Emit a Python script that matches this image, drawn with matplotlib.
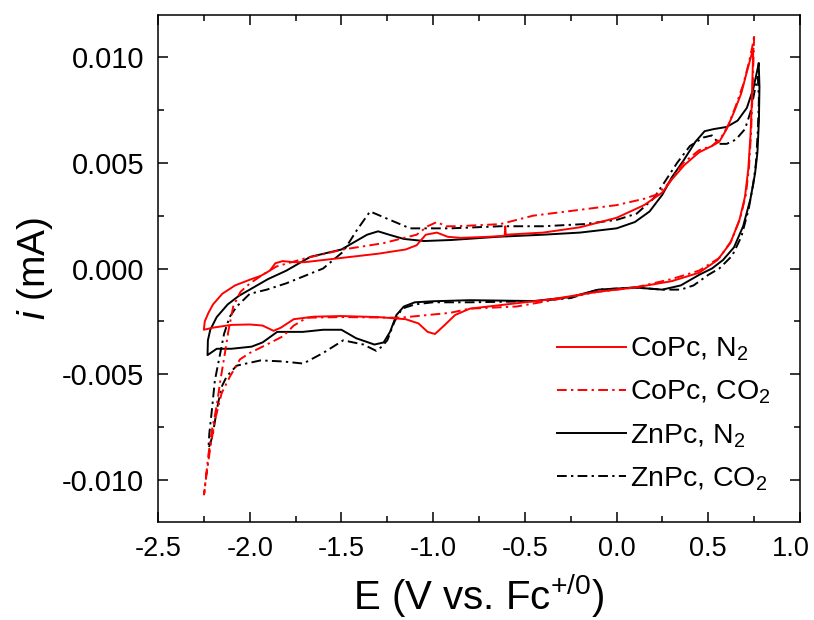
import matplotlib
matplotlib.use("Agg")
import matplotlib.pyplot as plt
import matplotlib.transforms as mtransforms
from matplotlib.ticker import MultipleLocator, FormatStrFormatter

plt.rcParams['font.family'] = ['Liberation Sans', 'DejaVu Sans']
plt.rcParams['mathtext.fontset'] = 'custom'
plt.rcParams['mathtext.rm'] = 'Liberation Sans'
plt.rcParams['mathtext.it'] = 'Liberation Sans:italic'
plt.rcParams['axes.unicode_minus'] = False

# CoPc, N2 (red solid): right vertex -> cathodic branch -> left vertex -> anodic branch
copc_n2_E = [0.745, 0.742, 0.737, 0.730, 0.718, 0.700, 0.670, 0.620, 0.550, 0.450, 0.300, 0.100,
             -0.100, -0.350, -0.600, -0.800, -0.880, -0.940, -0.990, -1.030, -1.080, -1.150,
             -1.300, -1.500, -1.650, -1.760, -1.830, -1.870, -1.930, -2.000, -2.100, -2.200,
             -2.250,
             -2.245, -2.225, -2.200, -2.150, -2.080, -1.990, -1.940, -1.890, -1.860, -1.820,
             -1.760, -1.700, -1.500, -1.300, -1.150, -1.090, -1.040, -0.980, -0.920, -0.850,
             -0.700, -0.610, -0.607, -0.604, -0.400, -0.200, 0.000, 0.150, 0.250, 0.300, 0.370,
             0.450, 0.520, 0.560, 0.600, 0.640, 0.680, 0.710, 0.735, 0.745]
copc_n2_i = [0.0104, 0.0094, 0.0078, 0.0063, 0.0047, 0.0034, 0.0023, 0.0012, 0.0004, -0.0002,
             -0.0006, -0.0009, -0.0011, -0.00145, -0.0017, -0.0019, -0.0022, -0.0027, -0.0031,
             -0.0030, -0.0026, -0.0024, -0.0023, -0.00225, -0.00228, -0.0024, -0.0028, -0.00295,
             -0.0027, -0.00265, -0.00267, -0.0028,
             -0.0029,
             -0.0025, -0.0021, -0.0017, -0.0012, -0.0008, -0.0005, -0.00035, -0.0001, 0.00025,
             0.00035, 0.0003, 0.0003, 0.0005, 0.0007, 0.0009, 0.0011, 0.0016, 0.0017, 0.0015,
             0.00145, 0.0015, 0.00155, 0.0020, 0.0016, 0.0017, 0.00195, 0.0024, 0.0030, 0.0036,
             0.0042, 0.0049, 0.0055, 0.0058, 0.0060, 0.0066, 0.0074, 0.0083, 0.0093, 0.0101,
             0.0104]

# CoPc, CO2 (red dash-dot)
copc_co2_E = [0.750, 0.745, 0.740, 0.733, 0.722, 0.705, 0.675, 0.625, 0.560, 0.450, 0.300, 0.100,
              -0.100, -0.350, -0.545, -0.800, -0.908, -1.181, -1.500, -1.689, -1.760, -1.817,
              -1.907, -2.000, -2.053, -2.107, -2.153, -2.190, -2.215, -2.235,
              -2.249,
              -2.240, -2.225, -2.207, -2.180, -2.160, -2.135, -2.117, -2.090, -2.050, -1.998,
              -1.930, -1.853, -1.689, -1.490, -1.271, -1.090, -1.030, -0.980, -0.930, -0.871,
              -0.635, -0.455, -0.180, 0.000, 0.150, 0.219, 0.280, 0.364, 0.450, 0.520, 0.570,
              0.610, 0.650, 0.690, 0.720, 0.740, 0.750]
copc_co2_i = [0.0110, 0.0095, 0.0080, 0.0064, 0.0048, 0.0035, 0.0024, 0.0013, 0.0005, -0.0001,
              -0.0005, -0.0009, -0.0011, -0.0015, -0.0018, -0.0019, -0.0021, -0.00233, -0.0023,
              -0.00233, -0.0027, -0.0032, -0.0036, -0.0040, -0.0043, -0.0051, -0.0059, -0.0072,
              -0.0085, -0.0097,
              -0.0107,
              -0.0100, -0.0088, -0.0077, -0.0065, -0.0053, -0.0040, -0.0030, -0.0018, -0.0011,
              -0.0007, -0.0003, 0.0001, 0.0005, 0.0009, 0.0012, 0.0016, 0.0020, 0.0022, 0.0020,
              0.0020, 0.0021, 0.0025, 0.0028, 0.0030, 0.0033, 0.0035, 0.0040, 0.0050, 0.0056,
              0.0058, 0.0062, 0.0068, 0.0077, 0.0087, 0.0097, 0.0105, 0.0110]

# ZnPc, N2 (black solid)
znpc_n2_E = [0.775, 0.779, 0.776, 0.768, 0.755, 0.730, 0.690, 0.640, 0.580, 0.520, 0.450, 0.350,
             0.250, 0.100, -0.100, -0.250, -0.450, -0.800, -1.000, -1.100, -1.160, -1.200,
             -1.235, -1.270, -1.320, -1.420, -1.500, -1.600, -1.710, -1.850, -1.930, -1.990,
             -2.100, -2.180,
             -2.230,
             -2.228, -2.215, -2.180, -2.120, -2.060, -1.980, -1.900, -1.800, -1.670, -1.500,
             -1.420, -1.360, -1.300, -1.240, -1.160, -1.050, -0.900, -0.650, -0.400, -0.200,
             0.000, 0.100, 0.180, 0.250, 0.300, 0.364, 0.430, 0.480, 0.530, 0.600, 0.660,
             0.710, 0.745, 0.765, 0.775]
znpc_n2_i = [0.0097, 0.0086, 0.0070, 0.0055, 0.0045, 0.0033, 0.0020, 0.0010, 0.0004, 0.0000,
             -0.0003, -0.0008, -0.0010, -0.0009, -0.0010, -0.00135, -0.00154, -0.0015,
             -0.00155, -0.0016, -0.0018, -0.0022, -0.0030, -0.0035, -0.0036, -0.0033, -0.0029,
             -0.0029, -0.0030, -0.0030, -0.0035, -0.0037, -0.0038, -0.0038,
             -0.0041,
             -0.0034, -0.0029, -0.0023, -0.0017, -0.0013, -0.0009, -0.0005, -0.0001, 0.00055,
             0.0009, 0.0013, 0.0016, 0.00176, 0.0016, 0.0014, 0.0013, 0.00135, 0.0015, 0.0016,
             0.0017, 0.0019, 0.0022, 0.0027, 0.0035, 0.0043, 0.0051, 0.0060, 0.0065, 0.0066,
             0.0067, 0.0070, 0.0076, 0.0085, 0.0093, 0.0097]

# ZnPc, CO2 (black dash-dot)
znpc_co2_E = [0.770, 0.776, 0.770, 0.760, 0.745, 0.720, 0.680, 0.630, 0.560, 0.500, 0.420, 0.350,
              0.250, 0.100, -0.100, -0.250, -0.450, -0.800, -1.000, -1.100, -1.170, -1.210,
              -1.250, -1.280, -1.310, -1.380, -1.490, -1.600, -1.708, -1.820, -1.940, -2.020,
              -2.071, -2.125, -2.153, -2.180, -2.200, -2.215,
              -2.225,
              -2.220, -2.205, -2.190, -2.165, -2.140, -2.110, -2.071, -2.000, -1.907, -1.800,
              -1.726, -1.600, -1.490, -1.417, -1.344, -1.235, -1.126, -0.908, -0.635, -0.400,
              -0.180, 0.000, 0.110, 0.200, 0.255, 0.330, 0.400, 0.473, 0.520, 0.560, 0.600,
              0.650, 0.700, 0.730, 0.755, 0.770]
znpc_co2_i = [0.0091, 0.0080, 0.0065, 0.0050, 0.0040, 0.0028, 0.0015, 0.0006, 0.0000, -0.0003,
              -0.0008, -0.0010, -0.0010, -0.0009, -0.0010, -0.0014, -0.00155, -0.0016, -0.0016,
              -0.0017, -0.0019, -0.0025, -0.0034, -0.0037, -0.0039, -0.0036, -0.0034, -0.0040,
              -0.0045, -0.0044, -0.00435, -0.0045, -0.0046, -0.0051, -0.0056, -0.0067, -0.0078,
              -0.0083,
              -0.0085,
              -0.0078, -0.0066, -0.0053, -0.0042, -0.0031, -0.0023, -0.0018, -0.0012, -0.0010,
              -0.0007, -0.00044, 0.0000, 0.0008, 0.0018, 0.0027, 0.0023, 0.0019, 0.0019, 0.0020,
              0.0020, 0.0021, 0.0023, 0.0026, 0.0033, 0.0040, 0.0050, 0.0058, 0.0062, 0.0063,
              0.0059, 0.0059, 0.0061, 0.0066, 0.0074, 0.0085, 0.0091]

labels = ['CoPc, N$_2$', 'CoPc, CO$_2$', 'ZnPc, N$_2$', 'ZnPc, CO$_2$']
dashdot = (5, 2.2, 1.2, 2.2)

fig = plt.figure(figsize=(8.14, 6.2), dpi=100)
ax = fig.add_axes([158 / 814, 98 / 620, 642 / 814, 507 / 620])

h4, = ax.plot(znpc_co2_E, znpc_co2_i, color='black', lw=1.4, dashes=dashdot, label=labels[3])
h3, = ax.plot(znpc_n2_E, znpc_n2_i, color='black', lw=1.4, label=labels[2])
h2, = ax.plot(copc_co2_E, copc_co2_i, color='red', lw=1.4, dashes=dashdot, label=labels[1])
h1, = ax.plot(copc_n2_E, copc_n2_i, color='red', lw=1.4, label=labels[0])

ax.set_xlim(-2.5, 1.0)
ax.set_ylim(-0.012, 0.012)
ax.set_xticks([-2.5, -2.0, -1.5, -1.0, -0.5, 0.0, 0.5, 1.0])
ax.xaxis.set_minor_locator(MultipleLocator(0.25))
ax.set_yticks([-0.010, -0.005, 0.000, 0.005, 0.010])
ax.yaxis.set_minor_locator(MultipleLocator(0.0025))
ax.xaxis.set_major_formatter(FormatStrFormatter('%.1f'))
ax.yaxis.set_major_formatter(FormatStrFormatter('%.3f'))
ax.tick_params(which='both', direction='in', top=True, right=True, width=1.1, pad=10)
ax.tick_params(axis='x', labelsize=19.5)
ax.tick_params(axis='y', labelsize=21)
ax.tick_params(which='major', length=7.5)
ax.tick_params(which='minor', length=4)
for s in ax.spines.values():
    s.set_linewidth(1.1)

ax.set_xlabel('E (V vs. Fc$^{+/0}$)', fontsize=29, labelpad=7)
ax.set_ylabel('$i$ (mA)', fontsize=28, labelpad=5)

ax.legend(handles=[h1, h2, h3, h4], loc='upper left', bbox_to_anchor=(0.582, 0.418), frameon=False,
          fontsize=20.5, handlelength=2.4, handletextpad=0.15, labelspacing=0.55)

# the last x tick label sits a little left of its tick in the original, so it stays on the canvas
fig.canvas.draw()
for lab in ax.get_xticklabels():
    if lab.get_text() == '1.0':
        lab.set_transform(lab.get_transform() + mtransforms.ScaledTranslation(-9 / 100, 0, fig.dpi_scale_trans))

fig.savefig('out.png', dpi=100)
